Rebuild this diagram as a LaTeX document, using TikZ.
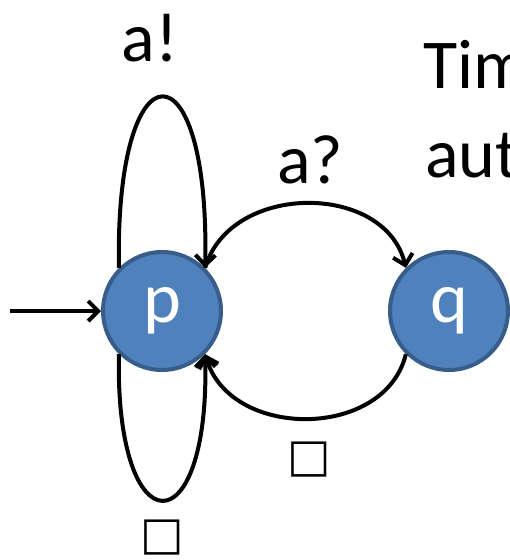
\documentclass[tikz,border=0pt]{standalone}
\usepackage{fontspec}
\setmainfont{Carlito}
\newfontfamily\symfont{DejaVu Sans}
\usetikzlibrary{arrows.meta}
\definecolor{nodefill}{HTML}{4F81BD}
\definecolor{nodeline}{HTML}{385D8A}
\tikzset{
  state/.style={circle,fill=nodefill,draw=nodeline,line width=4pt,minimum size=118pt,inner sep=0pt,text=white,font=\fontsize{72}{72}\selectfont},
  lbl/.style={font=\fontsize{70}{70}\selectfont,inner sep=0pt},
  box/.style={font=\symfont\fontsize{46}{46}\selectfont,inner sep=0pt},
  edge/.style={line width=4pt,-{Straight Barb[length=10pt,width=20pt,line width=4pt]}},
}
\begin{document}
\begin{tikzpicture}[x=1pt,y=-1pt]
\useasboundingbox (0,0) rectangle (510,560);
\clip (0,0) rectangle (510,560);
\node[state] (p) at (162,311) {p};
\node[state] (q) at (449,311) {q};
\coordinate (start) at (10,311);
\draw[edge] (start) -- (p.west);
\draw[edge] (p.135) .. controls (115,40) and (210,40) .. (p.45);
\draw[edge] (p.225) .. controls (115,549) and (210,549) .. (p.315);
\draw[edge] (p.45) .. controls (230,182) and (385,182) .. (q.135);
\draw[edge] (q.225) .. controls (385,440) and (230,440) .. (p.315);
\node[lbl] (l1) at (150,38) {a!};
\node[lbl] (l2) at (310,160) {a?};
\node[box] (s1) at (309,460) {□};
\node[box] (s2) at (162,538) {□};
\node[lbl,anchor=base west] (t1) at (423,88) {Tim};
\node[lbl,anchor=base west] (t2) at (425,177) {aut};
\end{tikzpicture}
\end{document}
